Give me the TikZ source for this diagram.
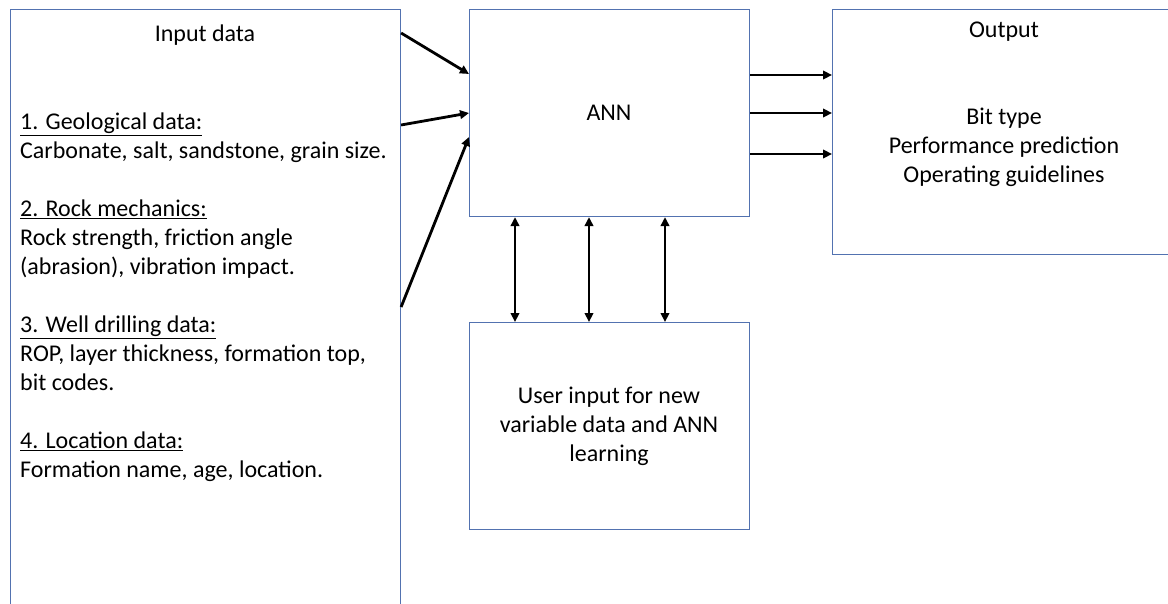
\documentclass[tikz,border=0pt]{standalone}
\usepackage{fontspec}
\setmainfont{Carlito}
\usetikzlibrary{arrows.meta,calc}
\definecolor{boxblue}{RGB}{82,114,176}
\begin{document}
\begin{tikzpicture}[x=1pt,y=-1pt,
  box/.style={draw=boxblue, line width=1.1pt, inner sep=0pt, anchor=north west},
  arr/.style={line width=2.8pt, -{Triangle[length=9pt,width=8.5pt]}},
  darr/.style={line width=2.8pt, {Triangle[length=9pt,width=8.5pt]}-{Triangle[length=9pt,width=8.5pt]}},
  txt/.style={font=\fontsize{24}{29}\selectfont, inner sep=0pt}]
\useasboundingbox (0,0) rectangle (1168,604);
\fill[white] (0,0) rectangle (1168,604);
% boxes
\node[box, minimum width=390, minimum height=640] (inp) at (10,9) {};
\node[box, minimum width=280, minimum height=207] (ann) at (469,9) {};
\node[box, minimum width=336, minimum height=245] (out) at (832,9) {};
\node[box, minimum width=280, minimum height=207] (usr) at (469,322) {};
% texts
\node[txt] (inptitle) at (205,35) {Input data};
\node[txt, anchor=north west, align=left] (inplist) at (20,113)
  {\underline{1. Geological data:}\\
   Carbonate, salt, sandstone, grain size.\\[29pt]
   \underline{2. Rock mechanics:}\\
   Rock strength, friction angle\\
   (abrasion), vibration impact.\\[29pt]
   \underline{3. Well drilling data:}\\
   ROP, layer thickness, formation top,\\
   bit codes.\\[29pt]
   \underline{4. Location data:}\\
   Formation name, age, location.};
\node[txt] (anntext) at (609,113) {ANN};
\node[txt] (outtitle) at (1004,32) {Output};
\node[txt, align=center] (outtext) at (1004,147)
  {Bit type\\Performance prediction\\Operating guidelines};
\node[txt, align=center] (usrtext) at (609,426)
  {User input for new\\variable data and ANN\\learning};
% input arrows
\draw[arr] ($(inp.north east)+(0,24)$) -- ($(ann.north west)+(0,65)$);
\draw[arr] ($(inp.north east)+(0,116)$) -- ($(ann.north west)+(0,104)$);
\draw[arr] ($(inp.north east)+(0,298)$) -- ($(ann.north west)+(0,128)$);
% output arrows
\draw[arr] ($(ann.north east)+(0,66)$) -- ($(out.north west)+(0,66)$);
\draw[arr] ($(ann.north east)+(0,104)$) -- ($(out.north west)+(0,104)$);
\draw[arr] ($(ann.north east)+(0,145)$) -- ($(out.north west)+(0,145)$);
% bidirectional arrows
\draw[darr] ($(ann.south west)+(46,0)$) -- ($(usr.north west)+(46,0)$);
\draw[darr] ($(ann.south west)+(120,0)$) -- ($(usr.north west)+(120,0)$);
\draw[darr] ($(ann.south west)+(196,0)$) -- ($(usr.north west)+(196,0)$);
\end{tikzpicture}
\end{document}
